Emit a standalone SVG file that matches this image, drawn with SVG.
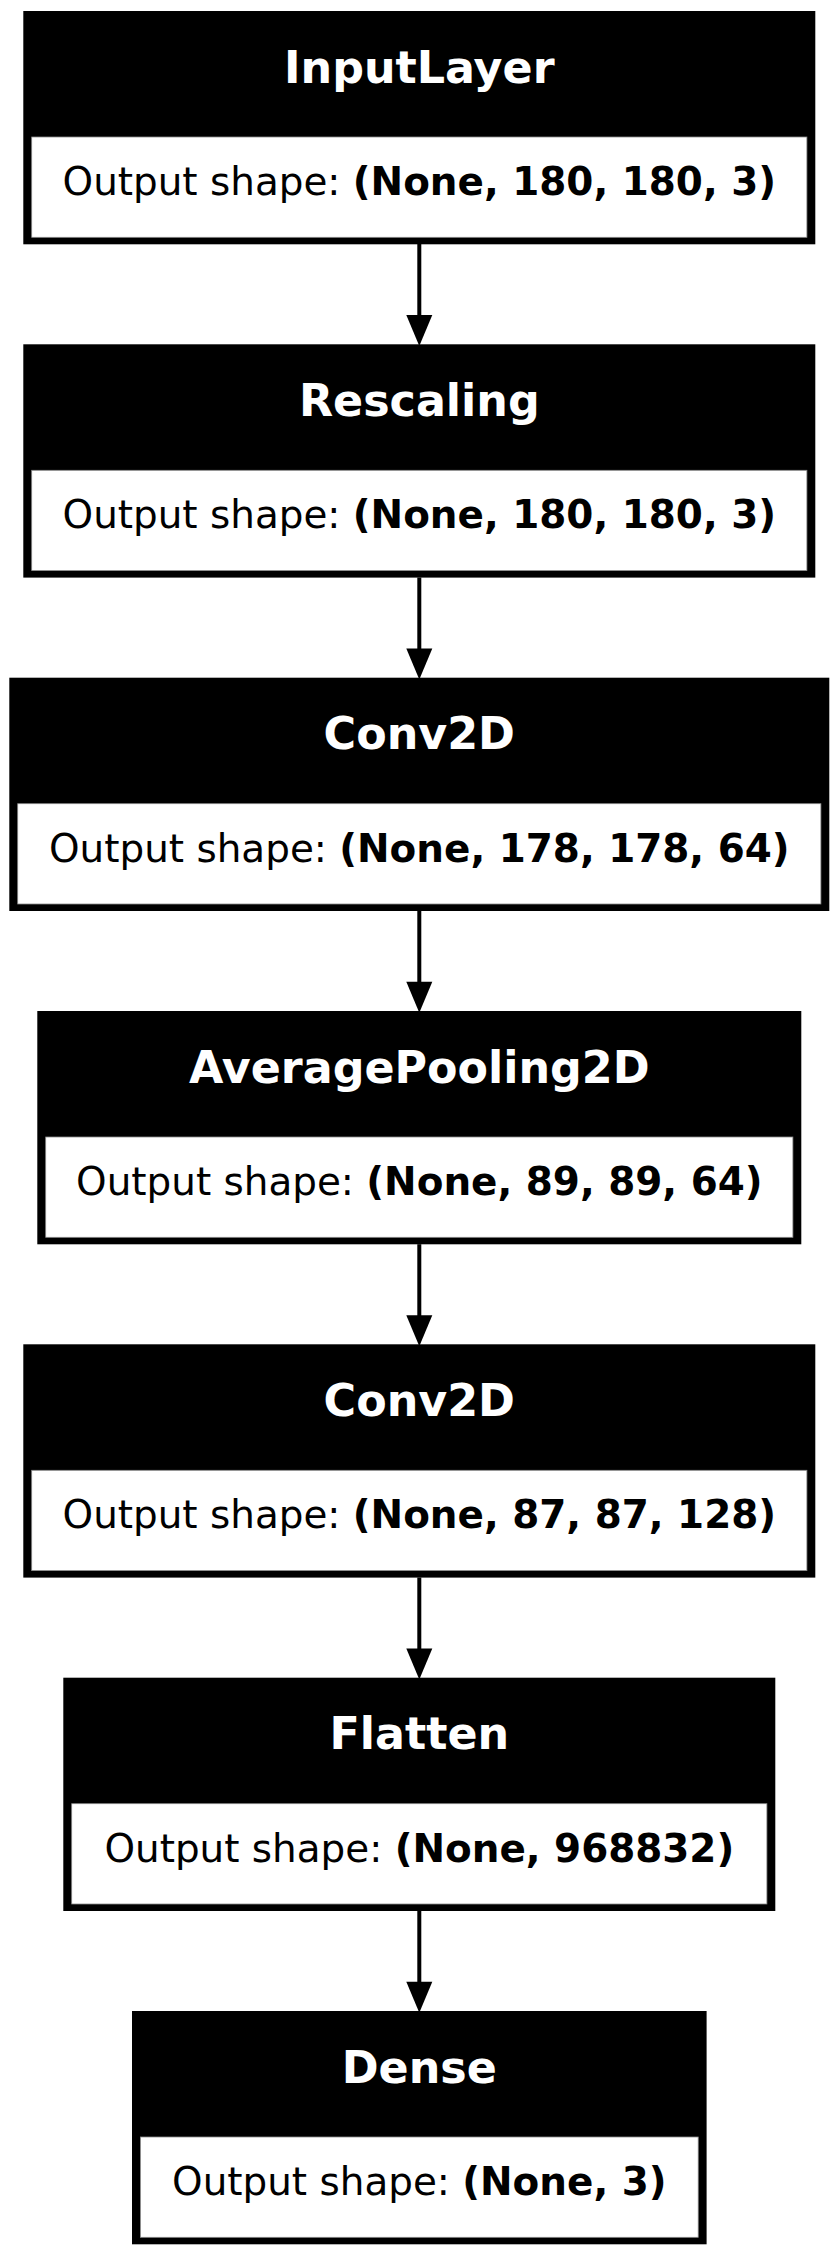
<svg xmlns="http://www.w3.org/2000/svg" width="839" height="2256" viewBox="0 0 839 2256">
<style>
.outer{fill:#000}
.cell{fill:#fff;stroke:#8a8a8a;stroke-width:0.8}
.title{font-family:"DejaVu Sans",sans-serif;font-weight:bold;font-size:44.4px;fill:#fff;text-anchor:middle}
.body{font-family:"DejaVu Sans",sans-serif;font-size:38.9px;fill:#000;text-anchor:middle}
.b{font-weight:bold}
.edge{stroke:#000;stroke-width:4;fill:none}
.head{fill:#000}
</style>
<rect width="839" height="2256" fill="#fff"/>
<g id="connectors">
<line class="edge" x1="419.3" y1="244" x2="419.3" y2="316"/>
<polygon class="head" points="406.3,315 432.3,315 419.3,346"/>
<line class="edge" x1="419.3" y1="577.5" x2="419.3" y2="649.5"/>
<polygon class="head" points="406.3,648.5 432.3,648.5 419.3,679.5"/>
<line class="edge" x1="419.3" y1="910.8" x2="419.3" y2="982.8"/>
<polygon class="head" points="406.3,981.8 432.3,981.8 419.3,1012.8"/>
<line class="edge" x1="419.3" y1="1244.2" x2="419.3" y2="1316.2"/>
<polygon class="head" points="406.3,1315.2 432.3,1315.2 419.3,1346.2"/>
<line class="edge" x1="419.3" y1="1577.5" x2="419.3" y2="1649.5"/>
<polygon class="head" points="406.3,1648.5 432.3,1648.5 419.3,1679.5"/>
<line class="edge" x1="419.3" y1="1910.8" x2="419.3" y2="1982.8"/>
<polygon class="head" points="406.3,1981.8 432.3,1981.8 419.3,2012.8"/>
</g>
<g id="node-inputlayer">
<rect class="outer" x="23.3" y="11" width="792" height="233.3"/>
<rect class="cell" x="31.7" y="137" width="775.2" height="100.3"/>
<text class="title" x="419.3" y="82.7">InputLayer</text>
<text class="body" x="419.3" y="195">Output shape: <tspan class="b">(None, 180, 180, 3)</tspan></text>
</g>
<g id="node-rescaling">
<rect class="outer" x="23.3" y="344.3" width="792" height="233.3"/>
<rect class="cell" x="31.7" y="470.3" width="775.2" height="100.3"/>
<text class="title" x="419.3" y="416">Rescaling</text>
<text class="body" x="419.3" y="528.3">Output shape: <tspan class="b">(None, 180, 180, 3)</tspan></text>
</g>
<g id="node-conv2d">
<rect class="outer" x="9.3" y="677.7" width="820" height="233.3"/>
<rect class="cell" x="17.7" y="803.7" width="803.2" height="100.3"/>
<text class="title" x="419.3" y="749.4">Conv2D</text>
<text class="body" x="419.3" y="861.7">Output shape: <tspan class="b">(None, 178, 178, 64)</tspan></text>
</g>
<g id="node-averagepooling2d">
<rect class="outer" x="37.3" y="1011" width="764" height="233.3"/>
<rect class="cell" x="45.7" y="1137" width="747.2" height="100.3"/>
<text class="title" x="419.3" y="1082.7">AveragePooling2D</text>
<text class="body" x="419.3" y="1195">Output shape: <tspan class="b">(None, 89, 89, 64)</tspan></text>
</g>
<g id="node-conv2d-1">
<rect class="outer" x="23.3" y="1344.3" width="792" height="233.3"/>
<rect class="cell" x="31.7" y="1470.3" width="775.2" height="100.3"/>
<text class="title" x="419.3" y="1416">Conv2D</text>
<text class="body" x="419.3" y="1528.3">Output shape: <tspan class="b">(None, 87, 87, 128)</tspan></text>
</g>
<g id="node-flatten">
<rect class="outer" x="63.3" y="1677.7" width="712" height="233.3"/>
<rect class="cell" x="71.7" y="1803.7" width="695.2" height="100.3"/>
<text class="title" x="419.3" y="1749.4">Flatten</text>
<text class="body" x="419.3" y="1861.7">Output shape: <tspan class="b">(None, 968832)</tspan></text>
</g>
<g id="node-dense">
<rect class="outer" x="132" y="2011" width="574.6" height="233.3"/>
<rect class="cell" x="140.4" y="2137" width="557.8" height="100.3"/>
<text class="title" x="419.3" y="2082.7">Dense</text>
<text class="body" x="419.3" y="2195">Output shape: <tspan class="b">(None, 3)</tspan></text>
</g>
</svg>
